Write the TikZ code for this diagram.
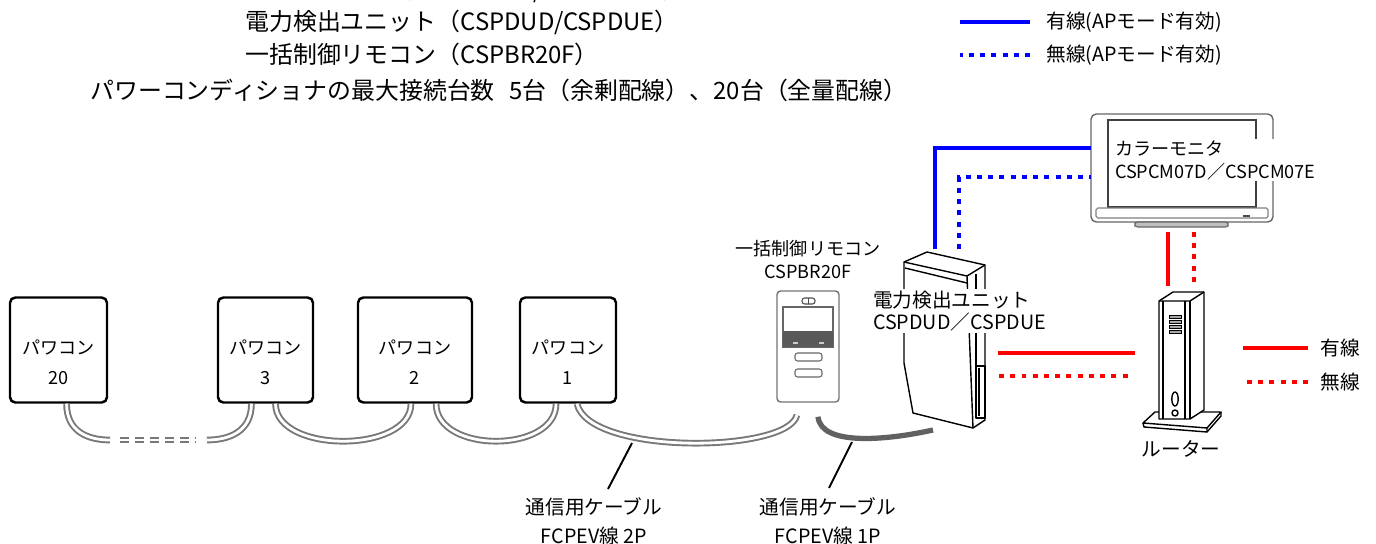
\documentclass[tikz,border=0pt]{standalone}
\usepackage{fontspec}
\setmainfont{Noto Sans CJK JP}
\usepackage{tikz}
\usetikzlibrary{positioning}
\definecolor{wblue}{RGB}{0,0,255}
\definecolor{wred}{RGB}{255,0,0}
\definecolor{cgray}{RGB}{120,120,120}
\newcommand{\hdfont}{\fontsize{13.6}{16}\selectfont}
\newcommand{\lbfont}{\fontsize{10.3}{13}\selectfont}
\newcommand{\mdfont}{\fontsize{11.2}{13}\selectfont}
\tikzstyle{head} = [font=\hdfont, anchor=west, inner sep=0pt]
\tikzstyle{pcs} = [rectangle, draw, line width=1.4pt, rounded corners=3pt, minimum height=2.1cm, align=center, font=\lbfont]
\tikzstyle{tag} = [font=\lbfont, align=left, fill=white, inner sep=1pt]
\tikzstyle{note} = [font=\mdfont, inner sep=0pt]
\tikzstyle{cable} = [draw=cgray, double=white, double distance=1.6pt, line width=1.1pt]
\tikzstyle{wired} = [line width=2.8pt]
\tikzstyle{wireless} = [line width=2.8pt, dash pattern=on 2.8pt off 3.6pt]
\tikzstyle{pen} = [line width=0.8pt, line join=round]

\begin{document}
\begin{tikzpicture}[x=0.02cm, y=-0.02cm]
  \useasboundingbox (0,0) rectangle (1376,544);
  % Header lines
  \node [head] (h1a) at (90,-10) {機器構成};
  \node [head] (h1b) at (245,-10) {カラーモニタ（CSPCM07D/CSPCM07E）};
  \node [head] (h2) at (245,22) {電力検出ユニット（CSPDUD/CSPDUE）};
  \node [head] (h3) at (245,54) {一括制御リモコン（CSPBR20F）};
  \node [head] (h4) at (90,90) {パワーコンディショナの最大接続台数\hspace{0.6em}5台（余剰配線）、20台（全量配線）};
  % Legend
  \node [note, anchor=west] (lb1) at (1046,22) {有線(APモード有効)};
  \node [note, anchor=west] (lb2) at (1046,55) {無線(APモード有効)};
  \draw [wired, wblue] (lb1.west) ++(-16,0) -- ++(-70,0);
  \draw [wireless, wblue] (lb2.west) ++(-16,0) -- ++(-70,0);
  \node [note, anchor=west] (lr1) at (1320,348) {有線};
  \node [note, anchor=west] (lr2) at (1320,382) {無線};
  \draw [wired, wred] (lr1.west) ++(-12,0) -- ++(-65,0);
  \draw [wireless, wred] (lr2.west) ++(-12,0) -- ++(-65,0);

  % Place nodes
  \node [pcs, minimum width=1.94cm] (p20) at (58.5,350) {\rule{0pt}{22pt}パワコン\\[4pt]20};
  \node [pcs, minimum width=1.9cm] (p3) at (265.5,350) {\rule{0pt}{22pt}パワコン\\[4pt]3};
  \node [pcs, minimum width=2.28cm] (p2) at (415,350) {\rule{0pt}{22pt}パワコン\\[4pt]2};
  \node [pcs, minimum width=1.92cm] (p1) at (568,350) {\rule{0pt}{22pt}パワコン\\[4pt]1};
  \node [draw=black!55, line width=0.8pt, rounded corners=2pt, minimum width=1.24cm, minimum height=2.22cm] (rc) at (808,346.5) {};
  \node [font=\lbfont, align=center, inner sep=0pt, above=0.22cm of rc] (rcl) {一括制御リモコン\\CSPBR20F};
  \node [note] (t2) at (594,507) {通信用ケーブル};
  \node [note, below=0.2cm of t2] (u2) {FCPEV線 2P};
  \node [note] (t1) at (828,507) {通信用ケーブル};
  \node [note, below=0.2cm of t1] (u1) {FCPEV線 1P};
  \coordinate (c20) at (110,440);
  \coordinate (c3) at (207,440);
  \coordinate (dd1) at (120,440);
  \coordinate (dd2) at (195,440);
  \coordinate (dv) at (933,430);
  \coordinate (k2) at (632,443);
  \coordinate (e2) at (608,489);
  \coordinate (k1) at (852,442);
  \coordinate (e1) at (829,488);

  % Remote face
  \draw [black!70, line width=0.6pt, rounded corners=1.5pt] (802,298) rectangle (815,304);
  \draw [black!70, line width=0.6pt] (808.5,298) -- (808.5,304);
  \draw [black!60, line width=0.6pt] (783,307) rectangle (833,347);
  \fill [black!65] (783,331) rectangle (833,347);
  \fill [black!20] (793,341.5) rectangle (798,343.5);
  \fill [black!20] (819,341.5) rectangle (824,343.5);
  \draw [black!60, line width=0.6pt, rounded corners=1.5pt] (795,353) rectangle (822,361);
  \draw [black!60, line width=0.6pt, rounded corners=1.5pt] (795,369) rectangle (822,377);

  % Draw edges
  \draw [cable] ([xshift=4.6pt]p20.south) .. controls +(0,28) and +(-22,0) .. (c20);
  \draw [cable, dash pattern=on 5.1pt off 3.4pt] (dd1) -- (dd2);
  \draw [cable] (c3) .. controls +(22,0) and +(0,28) .. ([xshift=-8pt]p3.south);
  \draw [cable] ([xshift=5.7pt]p3.south) .. controls +(0,50) and +(0,50) .. ([xshift=-2.3pt]p2.south);
  \draw [cable] ([xshift=12pt]p2.south) .. controls +(0,50) and +(0,50) .. ([xshift=-6.8pt]p1.south);
  \draw [cable] ([xshift=5.1pt]p1.south) .. controls +(12,52) and +(-8,38) .. ([xshift=-6.3pt, yshift=-7pt]rc.south);
  \draw [black!62, line width=3pt] ([xshift=5.7pt, yshift=-8pt]rc.south) .. controls +(3,30) and +(-45,10) .. (dv);
  \draw [line width=1.1pt] (k2) -- (e2);
  \draw [line width=1.1pt] (k1) -- (e1);

  % Power detection unit
  \filldraw [pen, fill=white] (904,262) -- (927,252) -- (985,265) -- (985,420) -- (973,428) -- (913,413) -- (904,363) -- cycle;
  \draw [pen] (904,262) -- (967,276) -- (985,265);
  \draw [pen] (905,268) -- (967,283);
  \draw [pen] (967,276) -- (973,428);
  \draw [pen] (976,274) -- (976,366);
  \draw [pen] (976,366) rectangle (985,418);
  \draw [pen] (979,368) -- (979,416);
  \node [tag, font=\mdfont, anchor=west] (dl) at (871,311) {電力検出ユニット\\CSPDUD／CSPDUE};

  % Colour monitor
  \filldraw [draw=black!60, line width=0.8pt, fill=white, rounded corners=3pt] (1091,114) rectangle (1273,222);
  \draw [black!75, line width=0.8pt] (1108,120) rectangle (1256,207);
  \draw [black!50, line width=0.6pt, rounded corners=1pt] (1096,208) rectangle (1268,218);
  \fill [black!70] (1243,214.5) rectangle (1250,216.5);
  \filldraw [draw=black!60, fill=black!25, line width=0.6pt, rounded corners=1.5pt] (1135,222) rectangle (1228,227);
  \node [tag, anchor=west] (ml) at (1113,160) {カラーモニタ\\CSPCM07D／CSPCM07E};

  % Router
  \filldraw [pen, fill=white] (1143,423) -- (1155,412) -- (1221,412) -- (1207,428) -- cycle;
  \draw [pen] (1143,423) -- (1144,427) -- (1207,432) -- (1207,428);
  \draw [pen] (1207,432) -- (1221,416) -- (1221,412);
  \filldraw [pen, fill=white] (1159,301) -- (1173,292) -- (1204,292) -- (1204,410) -- (1190,419) -- (1159,419) -- cycle;
  \draw [pen] (1159,301) -- (1190,301) -- (1204,292);
  \draw [pen] (1190,301) -- (1190,419);
  \draw [pen] (1163,301) -- (1163,419);
  \draw [pen] (1185,301) -- (1185,419);
  \foreach \y in {317,322,327,332}
    \filldraw [line width=0.5pt, fill=black!35] (1169,\y-1.6) rectangle (1181,\y+1.6);
  \draw [pen] (1175,399) ellipse [x radius=3.2, y radius=7];
  \draw [pen] (1175,413) circle [radius=3];
  \node [note, below=0.16cm of {(1181,432)}, anchor=north] (rl) {ルーター};

  % Network links
  \coordinate (du1) at (935,249);
  \coordinate (du2) at (959,249);
  \coordinate (mo1) at (1091,148);
  \coordinate (mo2) at (1091,177);
  \coordinate (mb1) at (1168,232);
  \coordinate (mb2) at (1194,232);
  \coordinate (rt1) at (1168,286);
  \coordinate (rt2) at (1194,286);
  \coordinate (dr1) at (998,353);
  \coordinate (dr2) at (999,376);
  \coordinate (rs1) at (1135,353);
  \coordinate (rs2) at (1133,376);
  \draw [wired, wblue] (du1) |- (mo1);
  \draw [wireless, wblue] (du2) |- (mo2);
  \draw [wired, wred] (mb1) -- (rt1);
  \draw [wireless, wred] (mb2) -- (rt2);
  \draw [wired, wred] (dr1) -- (rs1);
  \draw [wireless, wred] (dr2) -- (rs2);
\end{tikzpicture}
\end{document}
